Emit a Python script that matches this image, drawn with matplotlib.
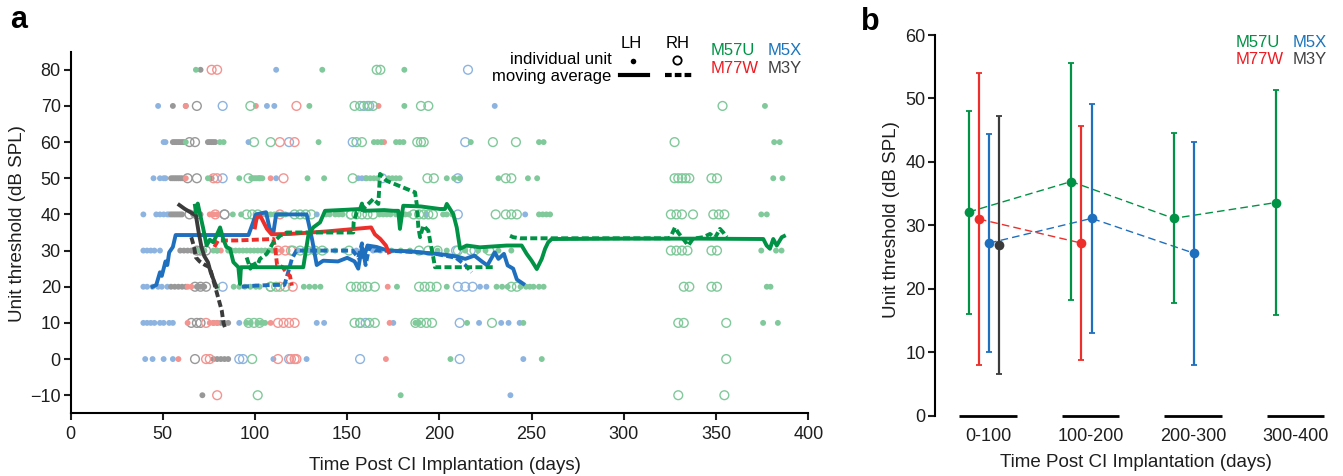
import numpy as np
import matplotlib
matplotlib.use("Agg")
import matplotlib.pyplot as plt
from matplotlib.lines import Line2D

plt.rcParams['font.family'] = ['Liberation Sans', 'DejaVu Sans']

# ---------------------------------------------------------------- data
# Individual unit thresholds: {threshold level (dB SPL): [days post implantation]}
m57u_lh_units = {
    80: [68, 136.5, 181],
    70: [129.5, 181, 376.5],
    60: [62.5, 81, 83, 134.5, 164.5, 166.5, 168.5, 176.5, 178.5, 180.5, 217, 254, 256.5, 381.5, 384.5],
    50: [74.5, 91.5, 98, 99, 100, 101, 102, 103, 104, 128.5, 137.5, 160.5, 162.5, 164.5, 166.5, 172.5,
         174.5, 176.5, 178.5, 204, 208, 211, 232, 248, 253, 381, 386],
    40: [88, 92.5, 106.5, 108.5, 110.5, 112.5, 114.5, 116.5, 138.5, 140.5, 143.5, 145.5, 147.5, 167.5,
         169.5, 171.5, 173.5, 176.5, 179.5, 181.5, 183.5, 202, 204, 207, 254, 256, 258, 260, 374.5, 377.5],
    30: [68.5, 70.5, 72.5, 77.5, 79.5, 85.5, 87.5, 89.5, 91.5, 93.5, 95.5, 97.5, 99.5, 101.5, 103.5, 105.5,
         107.5, 109.5, 134.5, 138.5, 143.5, 148.5, 174, 179, 184, 199, 204, 214, 221, 225, 232, 239,
         374.5, 382.5, 385.5],
    20: [79.5, 88.5, 91.5, 94.5, 97.5, 100.5, 102.5, 126.5, 129.5, 132.5, 135.5, 177, 204, 231, 234, 237,
         244, 247, 249, 251, 254, 256.5, 377.5, 379.5],
    10: [95.5, 97.5, 101.5, 103.5, 105.5, 187, 189, 215, 245.5, 375.5, 383.5],
    0: [206, 255.5],
    -10: [179],
}
m57u_rh_units = {
    80: [166, 168],
    70: [97.5, 154, 157, 161, 164, 190, 194, 353.5],
    60: [99.5, 108.5, 155, 158, 188, 190, 191.5, 229, 241.5, 327.5],
    50: [96.5, 153, 193.5, 197, 236, 239, 327.5, 329.5, 331.5, 333.5, 335.5, 347.5, 350.5],
    40: [95.5, 98.5, 101.5, 121.5, 124.5, 127.5, 130.5, 152, 155, 158, 161, 164, 186, 189, 191.5, 194,
         196.5, 230.5, 236, 239, 242, 325.5, 328.5, 331.5, 337.5, 348.5, 351.5, 354.5],
    30: [120.5, 124.5, 128.5, 132.5, 136.5, 151, 189, 194, 199, 210, 219, 227, 325.5, 328.5, 331.5,
         334.5, 347.5, 350.5],
    20: [108.5, 111.5, 116.5, 152, 155, 158, 161, 165, 189, 192, 195, 198.5, 239, 242, 332.5, 335.5,
         347.5, 350.5],
    10: [96.5, 99.5, 102.5, 154, 157, 162, 165, 187, 190, 193, 196, 228.5, 329.5, 332.5, 355.5],
    0: [98.5, 355.5],
    -10: [101.5, 329.5, 354.5],
}
m5x_lh_units = {
    80: [111.5],
    70: [47.5, 106.5, 110.5, 230],
    60: [50.5, 51.5, 96.5],
    50: [45, 48.5, 50.5, 51.5, 111.5, 156, 158, 160],
    40: [39.5, 46.5, 48.5, 50.5, 52.5, 53.5, 105.5, 133.5, 193, 246.5],
    30: [39.5, 41.5, 43.5, 45.5, 48.5, 79.5, 123.5, 126.5, 129.5, 131.5, 155, 159, 164, 168],
    20: [39.5, 41.5, 44.5, 47.5, 49.5, 52.5, 222, 225.5],
    10: [39.5, 41.5, 43.5, 45.5, 48.5, 50.5, 53.5, 55.5, 91.5, 133.5, 137.5, 175, 221.5, 233.5, 237.5, 243.5],
    0: [40.5, 44.5, 50.5, 55.5, 110, 128, 245.5],
    -10: [238.5],
}
m5x_rh_units = {
    80: [215.5],
    70: [82.5, 159, 162],
    60: [118.5, 153, 214],
    50: [82.5, 169, 210],
    40: [83.5, 152, 210],
    30: [209, 217],
    20: [82.5, 210, 214, 218],
    10: [157, 160, 211],
    0: [91.5, 93.5, 118.5, 157, 211],
}
m77w_lh_units = {
    70: [62.5, 100.5, 167],
    60: [170],
    50: [62.5, 102.5, 108.5],
    40: [75.5, 77.5, 79.5],
    30: [81.5, 111.5, 114.5],
    20: [63.5, 65.5, 172],
    10: [63.5, 75.5, 77.5, 79.5, 108.5, 173],
    0: [58.5, 171],
}
m77w_rh_units = {
    80: [76.5, 79.5],
    70: [122.5],
    60: [113.5, 121.5],
    50: [77.5, 79.5, 115.5],
    40: [78.5, 113.5],
    30: [112.5, 116.5, 119.5],
    20: [108.5, 113.5, 120.5],
    10: [73.5, 112.5, 115.5, 118.5, 121.5],
    0: [73.5, 75.5, 112.5, 119.5, 121.5, 122.5],
    -10: [79.5],
}
m3y_lh_units = {
    80: [70.5],
    70: [55.5, 62.5],
    60: [55.5, 56.5, 57.5, 58.5, 59.5, 60.5, 61.5, 74.5, 75.5, 76.5, 77.5, 78.5],
    50: [54.5, 55.5, 56.5, 57.5, 58.5, 59.5, 60.5, 76.5],
    40: [54.5, 55.5, 56.5, 57.5, 58.5, 59.5, 60.5, 66.5, 68.5, 70.5],
    30: [59.5, 61.5, 63.5, 65.5, 67.5, 70.5, 72.5],
    20: [54.5, 56.5, 58.5, 60.5, 62.5, 68.5, 70.5, 72.5],
    10: [77.5, 79.5, 81.5, 83.5, 85.5],
    0: [77.5, 79.5, 81.5, 83.5, 85.5],
    -10: [71.5],
}
m3y_rh_units = {
    70: [68.5],
    60: [64.5, 67.5],
    50: [63.5, 68.5],
    40: [64.5, 68.5, 83.5],
    30: [68.5, 70.5, 73.5],
    20: [67.5, 70.5, 73.5],
    10: [65.5, 68.5, 70.5],
    0: [67.5],
}

# Moving-average thresholds (days, dB SPL)
m57u_lh_days = [67.5, 68, 69, 70, 72, 73.8, 75.5, 77.4, 79, 81.1, 82.8, 84.5, 86.5, 88.3, 91, 91.9, 92.4,
                92.8, 100, 110, 120, 126.2, 128.9, 131.6, 135.3, 138, 150, 157, 158, 159, 170, 175, 177.7,
                178.6, 180.4, 190, 200.3, 203, 204, 207.5, 209.4, 211.2, 214.8, 222, 236.5, 244.6, 247.3,
                250, 252.8, 255.5, 257.3, 259, 260.9, 300, 340, 375.6, 377.4, 379.2, 381, 382.9, 385.6, 386.8]
m57u_lh_db = [42.4, 40.5, 43, 40.6, 36, 31.4, 33, 32.3, 34, 36.4, 33.2, 31, 30.5, 26.8, 25.4, 20.8, 25.4,
              25.4, 25.4, 25.4, 25.4, 25.4, 34.1, 36.4, 37.8, 41, 41.3, 41.5, 43, 41, 41.2, 41, 41,
              36, 42.4, 42.2, 41.5, 41.5, 42.9, 40.1, 36.4, 30.5, 31.4, 30.9, 31.4, 31.4, 29.1,
              27.2, 24.9, 27.7, 30.5, 32.3, 33.2, 33.3, 33.3, 33.2, 31.4, 30.5, 33.2, 31.4, 33.7, 34]
m57u_rh_days_early = [95.5, 97.5, 99, 100.9, 102.7, 106.4, 110, 113.6, 117.2, 130, 153.3, 153.5, 155.2,
                      158.7, 164.2, 166.9, 167.8, 171.4, 186.8, 187.7, 188.6, 189.5, 191.3, 194, 194.9,
                      196.7, 197.6, 229.2]
m57u_rh_db_early = [28.1, 25, 27, 25.4, 27.7, 29.1, 32.3, 34.1, 35, 35, 35, 37.8, 40.6, 41.5, 44.3, 42.9,
                    51.2, 49.3, 46.1, 42.9, 36.4, 33.7, 36.9, 35.5, 32.8, 28.1, 25.4, 25.4]
m57u_rh_days_late = [238.3, 240, 243.7, 325, 327.7, 329.4, 332.2, 334.9, 337.5, 343.1, 346.7, 349.4,
                     352.1, 353.9, 355.8]
m57u_rh_db_late = [34.1, 33.7, 33.4, 33.4, 36.4, 35, 33.2, 31.4, 33.3, 33.7, 34.6, 33.5, 36, 35, 33.7]

m5x_lh_days = [44.5, 46.5, 48.5, 49.5, 51.5, 52.5, 53.5, 55.5, 57, 96.5, 99, 100.5, 106, 108, 110, 111.5,
               128, 129, 131, 133.5, 137, 145, 150, 154, 156, 158, 159, 161, 166, 172, 184, 194, 204,
               210, 214, 219, 223, 226, 230, 232, 235, 237, 240, 242, 245.5]
m5x_lh_db = [20, 20.5, 24, 23, 27, 26, 29.5, 31, 34.3, 34.3, 37.8, 40, 40.6, 36, 35, 40, 40, 37.8, 33, 26,
             27.2, 27, 28, 27, 25, 31, 28, 31.4, 31, 30, 29.8, 29.3, 28.8, 28.3, 27.7, 28.6, 27, 25.9,
             29.5, 27.7, 29.1, 25.9, 25, 22, 20.8]
m5x_rh_days = [93, 100, 110, 116, 118, 120, 122.5, 128, 140, 150, 153, 156, 158, 160, 162, 165, 169, 179,
               189, 199, 209, 214, 217.5]
m5x_rh_db = [20, 20.3, 20.5, 20.5, 24, 27.7, 30, 30, 30, 30, 30, 28, 32, 26, 31, 30, 30, 29.8, 29.5, 29,
             28, 26, 24]

m77w_lh_days = [100, 101, 103, 106.5, 109, 119, 139, 163, 165, 168, 171, 172.5]
m77w_lh_db = [36.4, 39.2, 39.5, 36, 34.5, 34.6, 35.3, 36.4, 34.5, 33.2, 31.4, 29.5]
m77w_rh_days = [78, 80, 90, 100, 110, 111, 112, 113, 115, 117, 119, 120]
m77w_rh_db = [31, 32.8, 32.8, 33, 33.2, 30.5, 26, 25.9, 25.4, 24, 23, 20.3]

m3y_lh_days = [59, 62, 66, 68, 69.5, 71, 72.5, 74.5, 76, 77.5, 79]
m3y_lh_db = [42.6, 41.5, 40.3, 39.7, 35, 31, 28.5, 26.8, 24, 22, 20]
m3y_rh_days = [65.5, 67, 68, 70, 73, 75.5, 77.5, 80, 82, 83, 84]
m3y_rh_db = [33.7, 31, 28.1, 27, 26, 25.4, 21.7, 17.1, 13.4, 9.8, 8.4]

# Mean (+/- SD) unit threshold per 100-day period
periods = ['0-100', '100-200', '200-300', '300-400']
m57u_mean = [32.1, 36.9, 31.1, 33.6]
m57u_sd = [16.0, 18.7, 13.4, 17.8]
m77w_mean = [31.0, 27.2]
m77w_sd = [23.0, 18.5]
m5x_mean = [27.2, 31.1, 25.6]
m5x_sd = [17.2, 18.0, 17.6]
m3y_mean = [26.9]
m3y_sd = [20.4]

# ---------------------------------------------------------------- styles
dark = {'M57U': '#009245', 'M5X': '#1f6fbf', 'M77W': '#ec2f2a', 'M3Y': '#3b3b3b'}
light = {'M57U': '#80c99a', 'M5X': '#8db4e0', 'M77W': '#f39490', 'M3Y': '#989898'}
label_col = {'M57U': '#009245', 'M5X': '#1b75bc', 'M77W': '#ed1c24', 'M3Y': '#414042'}
txt = '#1e1e1e'
fs_tick = 13
fs_label = 13.5
fs_leg = 12

W, H = 1343, 476
fig = plt.figure(figsize=(W / 100, H / 100), dpi=100)


def fx(px):
    return px / W


def fy(py):
    return 1 - py / H


def unit_points(table):
    xs, ys = [], []
    for level, days in table.items():
        xs += list(days)
        ys += [level] * len(days)
    return np.array(xs, float), np.array(ys, float)


# ---------------------------------------------------------------- panel a
ax = fig.add_axes([fx(70.5), fy(413.3), (808.3 - 70.5) / W, (413.3 - 51.7) / H])

unit_sets = [
    ('M5X', m5x_lh_units, m5x_rh_units),
    ('M3Y', m3y_lh_units, m3y_rh_units),
    ('M77W', m77w_lh_units, m77w_rh_units),
    ('M57U', m57u_lh_units, m57u_rh_units),
]
for name, lh, rh in unit_sets:
    x, y = unit_points(lh)
    ax.scatter(x, y, s=18, color=light[name], edgecolors='none', zorder=2)
    x, y = unit_points(rh)
    ax.scatter(x, y, s=40, facecolors='none', edgecolors=light[name], linewidths=1.0, zorder=2)

lw_ma = 2.8
dash = (0, (1.8, 0.85))
ma_lines = [
    ('M5X', m5x_lh_days, m5x_lh_db, '-'),
    ('M5X', m5x_rh_days, m5x_rh_db, dash),
    ('M77W', m77w_lh_days, m77w_lh_db, '-'),
    ('M77W', m77w_rh_days, m77w_rh_db, dash),
    ('M3Y', m3y_lh_days, m3y_lh_db, '-'),
    ('M3Y', m3y_rh_days, m3y_rh_db, dash),
    ('M57U', m57u_lh_days, m57u_lh_db, '-'),
    ('M57U', m57u_rh_days_early, m57u_rh_db_early, dash),
    ('M57U', m57u_rh_days_late, m57u_rh_db_late, dash),
]
for name, d, v, ls in ma_lines:
    ax.plot(d, v, color=dark[name], lw=lw_ma, ls=ls, zorder=3)

ax.set_xlim(0, 400)
ax.set_ylim(-15, 85)
ax.set_xticks(np.arange(0, 401, 50))
ax.set_yticks(np.arange(-10, 81, 10))
for s in ('top', 'right'):
    ax.spines[s].set_visible(False)
for s in ('left', 'bottom'):
    ax.spines[s].set_linewidth(1.5)
ax.tick_params(direction='out', length=5, width=1.5, labelsize=fs_tick, colors=txt)
ax.tick_params(axis='y', pad=2)
ax.tick_params(axis='x', pad=4.5)
ax.set_xlabel('Time Post CI Implantation (days)', fontsize=fs_label, color=txt, va='center')
ax.xaxis.set_label_coords(0.5076, -0.143)
ax.set_ylabel('Unit threshold (dB SPL)', fontsize=fs_label, color=txt, va='center')
ax.yaxis.set_label_coords(-0.0718, 0.525)

# legend of panel a
fig.text(fx(631.7), fy(44), 'LH', ha='center', va='center', fontsize=fs_leg)
fig.text(fx(677.5), fy(44), 'RH', ha='center', va='center', fontsize=fs_leg)
fig.text(fx(611.7), fy(60), 'individual unit', ha='right', va='center', fontsize=fs_leg)
fig.text(fx(611.7), fy(76), 'moving average', ha='right', va='center', fontsize=fs_leg)
fig.add_artist(Line2D([fx(633.3)], [fy(60.7)], marker='o', ms=4, color='k', mec='none',
                      transform=fig.transFigure))
fig.add_artist(Line2D([fx(676.7)], [fy(60)], marker='o', ms=6, mfc='none', mec='k', mew=1.3,
                      transform=fig.transFigure))
fig.add_artist(Line2D([fx(620), fx(648.3)], [fy(75.3), fy(75.3)], color='k', lw=3,
                      transform=fig.transFigure))
fig.add_artist(Line2D([fx(665), fx(692.7)], [fy(75.3), fy(75.3)], color='k', lw=3,
                      ls=(0, (1.6, 0.75)), transform=fig.transFigure))
for name, px, py in [('M57U', 711, 50.7), ('M5X', 768, 50.7), ('M77W', 711, 68.3), ('M3Y', 768, 68.3)]:
    fig.text(fx(px), fy(py), name, ha='left', va='center', fontsize=fs_leg, color=label_col[name])

# ---------------------------------------------------------------- panel b
bx = fig.add_axes([fx(935.3), fy(415.7), 401.3 / W, (415.7 - 35) / H])

offsets = {'M57U': -0.19, 'M77W': -0.09, 'M5X': 0.01, 'M3Y': 0.11}
summary = [
    ('M57U', m57u_mean, m57u_sd),
    ('M77W', m77w_mean, m77w_sd),
    ('M5X', m5x_mean, m5x_sd),
    ('M3Y', m3y_mean, m3y_sd),
]
for name, mean, sd in summary:
    pos = np.arange(len(mean)) + offsets[name]
    if len(mean) > 1:
        bx.plot(pos, mean, color=dark[name], lw=1.0, ls=(0, (5.5, 3)), zorder=2)
    bx.errorbar(pos, mean, yerr=sd, fmt='o', color=dark[name], ms=7, mec='none',
                elinewidth=1.6, capsize=2.5, capthick=1.3, zorder=3)

for i in range(len(periods)):
    bx.plot([i - 0.28, i + 0.28], [0, 0], color='k', lw=2, clip_on=False,
            solid_capstyle='butt', zorder=4)

bx.set_xlim(-0.515, 3.4)
bx.set_ylim(0, 60)
bx.set_yticks(np.arange(0, 61, 10))
bx.set_xticks(range(len(periods)))
bx.set_xticklabels(periods)
for s in ('top', 'right', 'bottom'):
    bx.spines[s].set_visible(False)
bx.spines['left'].set_linewidth(1.5)
bx.tick_params(axis='y', direction='out', length=5, width=1.5, labelsize=fs_tick, pad=2, colors=txt)
bx.tick_params(axis='x', length=0, labelsize=fs_tick, pad=9, colors=txt)
bx.set_xlabel('Time Post CI Implantation (days)', fontsize=fs_label, color=txt, va='center')
bx.xaxis.set_label_coords(0.4997, -0.124)
bx.set_ylabel('Unit threshold (dB SPL)', fontsize=fs_label, color=txt, va='center')
bx.yaxis.set_label_coords(-0.110, 0.514)

for name, px, py in [('M57U', 1235.7, 42.7), ('M5X', 1292.3, 42.7), ('M77W', 1235.7, 60), ('M3Y', 1292.3, 60)]:
    fig.text(fx(px), fy(py), name, ha='left', va='center', fontsize=fs_leg, color=label_col[name])

# panel letters
fig.text(fx(10), fy(20), 'a', fontsize=22, fontweight='bold', ha='left', va='center')
fig.text(fx(861), fy(22), 'b', fontsize=22, fontweight='bold', ha='left', va='center')

fig.savefig('out.png', dpi=100)
